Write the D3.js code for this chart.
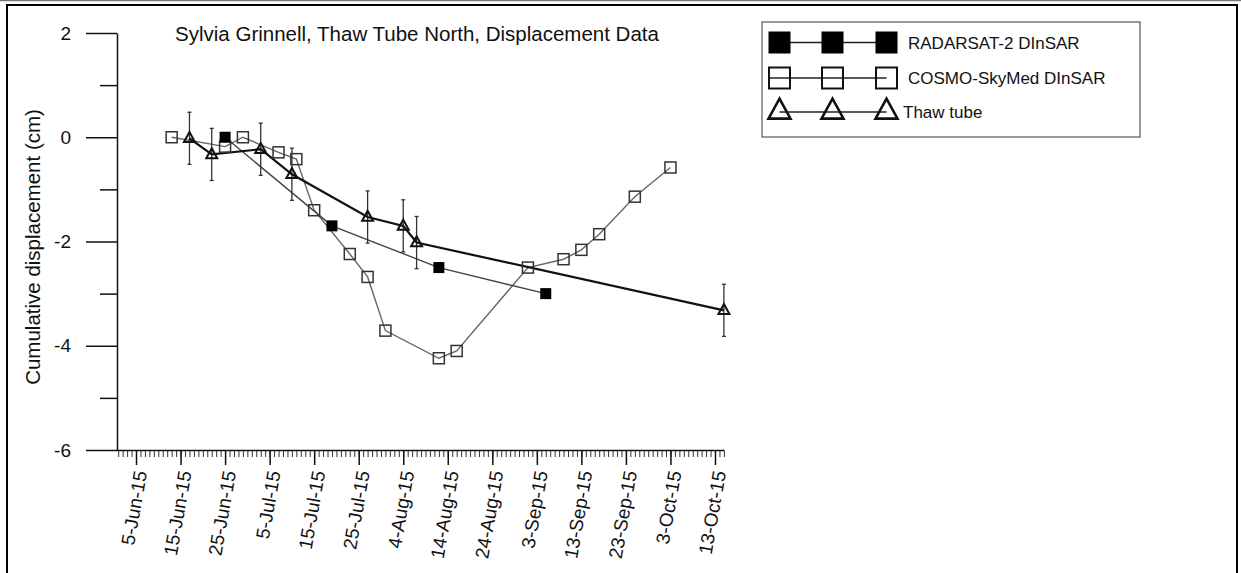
<!DOCTYPE html>
<html>
<head>
<meta charset="utf-8">
<script src="https://cdn.jsdelivr.net/npm/d3@7"></script>
<style>
  body { margin: 0; background: #fff; }
  text { font-family: "Liberation Sans", Arial, sans-serif; fill: #111; }
</style>
</head>
<body>
<div id="chart"></div>
<script>
var svgWidth = 1241;
var svgHeight = 573;

var parseDate = d3.utcParse("%Y-%m-%d");
var formatDate = d3.utcFormat("%-d-%b-%y");

// RADARSAT-2 DInSAR (filled squares)
var radarsatDates = ["2015-06-25", "2015-07-19", "2015-08-12", "2015-09-05"];
var radarsatValues = [0, -1.70, -2.50, -3.00];

// COSMO-SkyMed DInSAR (open squares)
var cosmoDates = ["2015-06-13", "2015-06-25", "2015-06-29", "2015-07-07", "2015-07-11",
  "2015-07-15", "2015-07-23", "2015-07-27", "2015-07-31", "2015-08-12", "2015-08-16",
  "2015-09-01", "2015-09-09", "2015-09-13", "2015-09-17", "2015-09-25", "2015-10-03"];
var cosmoValues = [0, -0.18, 0, -0.29, -0.42, -1.40, -2.24, -2.68, -3.71, -4.24, -4.10,
  -2.50, -2.34, -2.16, -1.86, -1.14, -0.58];

// Thaw tube (triangles with error bars)
var thawDates = ["2015-06-17", "2015-06-22", "2015-07-03", "2015-07-10", "2015-07-27",
  "2015-08-04", "2015-08-07", "2015-10-15"];
var thawValues = [-0.02, -0.33, -0.23, -0.71, -1.53, -1.70, -2.02, -3.32];
var thawError = [0.5, 0.5, 0.5, 0.5, 0.5, 0.5, 0.5, 0.5];

var yTicks = [-6, -4, -2, 0, 2];
var yMinorTicks = [-5, -3, -1, 1];
var xTickDates = ["2015-06-05", "2015-06-15", "2015-06-25", "2015-07-05", "2015-07-15",
  "2015-07-25", "2015-08-04", "2015-08-14", "2015-08-24", "2015-09-03", "2015-09-13",
  "2015-09-23", "2015-10-03", "2015-10-13"];
var xStart = "2015-06-01";
var xEnd = "2015-10-15";

var legendLabels = ["RADARSAT-2 DInSAR", "COSMO-SkyMed DInSAR", "Thaw tube"];

function toPoints(dates, values) {
  return dates.map(function(d, i) { return { date: parseDate(d), value: values[i] }; });
}
var radarsat = toPoints(radarsatDates, radarsatValues);
var cosmo = toPoints(cosmoDates, cosmoValues);
var thaw = toPoints(thawDates, thawValues);
thaw.forEach(function(d, i) { d.err = thawError[i]; });

var svg = d3.select("#chart")
  .append("svg")
  .attr("width", svgWidth)
  .attr("height", svgHeight);

// page frame
svg.append("line")
  .attr("x1", 0).attr("x2", svgWidth).attr("y1", 0.5).attr("y2", 0.5)
  .attr("stroke", "#777").attr("stroke-width", 1.5);
svg.append("rect")
  .attr("x", 7).attr("y", 5).attr("width", 1230).attr("height", 600)
  .attr("fill", "none").attr("stroke", "#000").attr("stroke-width", 2);

var xScale = d3.scaleUtc()
  .domain([parseDate(xStart), parseDate(xEnd)])
  .range([118.2, 723.9]);

var yScale = d3.scaleLinear()
  .domain([-6, 2])
  .range([450, 33]);

// y axis
var yMinor = svg.append("g")
  .attr("transform", "translate(117,0)")
  .call(d3.axisLeft(yScale).tickValues(yMinorTicks).tickSize(17).tickSizeOuter(0).tickFormat(""));
yMinor.select(".domain").remove();

var yAxis = svg.append("g")
  .attr("transform", "translate(117,0)")
  .attr("font-size", 19)
  .call(d3.axisLeft(yScale).tickValues(yTicks).tickSize(31).tickSizeOuter(0).tickPadding(15)
    .tickFormat(d => String(d)));
yAxis.attr("font-size", 19).attr("font-family", "Liberation Sans, Arial, sans-serif");
svg.selectAll(".tick line, .domain").attr("stroke", "#111").attr("stroke-width", 1.5);

// x axis, daily minor ticks
var xMinor = svg.append("g")
  .attr("transform", "translate(0,450)")
  .call(d3.axisBottom(xScale)
    .tickValues(d3.utcDay.range(parseDate(xStart), d3.utcDay.offset(parseDate(xEnd), 1)))
    .tickSize(7).tickSizeOuter(0).tickFormat(""));
xMinor.selectAll(".tick line").attr("stroke", "#333").attr("stroke-width", 1);
xMinor.select(".domain").remove();

var xAxis = svg.append("g")
  .attr("transform", "translate(0,450)")
  .call(d3.axisBottom(xScale)
    .tickValues(xTickDates.map(parseDate))
    .tickSize(15).tickSizeOuter(0).tickFormat(formatDate));
xAxis.attr("font-size", 19).attr("font-family", "Liberation Sans, Arial, sans-serif");
xAxis.select(".domain").attr("d", "M117,0.5H724").attr("stroke", "#111").attr("stroke-width", 1.5);
xAxis.selectAll(".tick line").attr("stroke", "#111").attr("stroke-width", 1.5);
xAxis.selectAll("text")
  .attr("text-anchor", "end")
  .attr("y", 0)
  .attr("dy", "0.35em")
  .attr("transform", "translate(4,21) rotate(-80)");

// axis title and chart title
svg.append("text")
  .attr("transform", "translate(40,247) rotate(-90)")
  .attr("text-anchor", "middle")
  .attr("font-size", "20.5px")
  .text("Cumulative displacement (cm)");

svg.append("text")
  .attr("x", 417)
  .attr("y", 41)
  .attr("text-anchor", "middle")
  .attr("font-size", "20.5px")
  .text("Sylvia Grinnell, Thaw Tube North, Displacement Data");

var line = d3.line()
  .x(function(d) { return xScale(d.date); })
  .y(function(d) { return yScale(d.value); });

var triPath = function(s) {
  return "M0," + (-s * 0.62) + "L" + (s * 0.55) + "," + (s * 0.38) + "L" + (-s * 0.55) + "," + (s * 0.38) + "Z";
};

// COSMO line
svg.append("path")
  .datum(cosmo)
  .attr("d", line)
  .attr("fill", "none")
  .attr("stroke", "#666")
  .attr("stroke-width", 1.4);

// RADARSAT line
svg.append("path")
  .datum(radarsat)
  .attr("d", line)
  .attr("fill", "none")
  .attr("stroke", "#444")
  .attr("stroke-width", 1.4);

// thaw tube error bars
var errGroup = svg.append("g");
errGroup.selectAll("line.err")
  .data(thaw)
  .enter()
  .append("line")
  .attr("x1", d => xScale(d.date))
  .attr("x2", d => xScale(d.date))
  .attr("y1", d => yScale(d.value + d.err))
  .attr("y2", d => yScale(d.value - d.err))
  .attr("stroke", "#333")
  .attr("stroke-width", 1.3);
[1, -1].forEach(function(sign) {
  errGroup.selectAll(null)
    .data(thaw)
    .enter()
    .append("line")
    .attr("x1", d => xScale(d.date) - 2)
    .attr("x2", d => xScale(d.date) + 2)
    .attr("y1", d => yScale(d.value + sign * d.err))
    .attr("y2", d => yScale(d.value + sign * d.err))
    .attr("stroke", "#333")
    .attr("stroke-width", 1.3);
});

// thaw tube line
svg.append("path")
  .datum(thaw)
  .attr("d", line)
  .attr("fill", "none")
  .attr("stroke", "#111")
  .attr("stroke-width", 2.2);

svg.append("g").selectAll("rect")
  .data(cosmo)
  .enter()
  .append("rect")
  .attr("x", d => xScale(d.date) - 5.5)
  .attr("y", d => yScale(d.value) - 5.5)
  .attr("width", 11)
  .attr("height", 11)
  .attr("fill", "none")
  .attr("stroke", "#333")
  .attr("stroke-width", 1.5);

svg.append("g").selectAll("rect")
  .data(radarsat)
  .enter()
  .append("rect")
  .attr("x", d => xScale(d.date) - 5.5)
  .attr("y", d => yScale(d.value) - 5.5)
  .attr("width", 11)
  .attr("height", 11)
  .attr("fill", "#000");

svg.append("g").selectAll("path")
  .data(thaw)
  .enter()
  .append("path")
  .attr("transform", d => `translate(${xScale(d.date)}, ${yScale(d.value)})`)
  .attr("d", triPath(10))
  .attr("fill", "none")
  .attr("stroke", "#111")
  .attr("stroke-width", 2);

// legend
var legend = svg.append("g");
legend.append("rect")
  .attr("x", 762).attr("y", 22).attr("width", 378).attr("height", 115)
  .attr("fill", "#fff").attr("stroke", "#555").attr("stroke-width", 1.2);

var legendX = [779.5, 832.5, 886.5];
var legendY = [42.5, 78, 112];

legendY.forEach(function(ly, i) {
  legend.append("line")
    .attr("x1", legendX[0] - (i === 1 ? 10 : 0)).attr("x2", legendX[2])
    .attr("y1", ly).attr("y2", ly)
    .attr("stroke", "#222").attr("stroke-width", 1.4);
  legendX.forEach(function(lx) {
    if (i === 0) {
      legend.append("rect")
        .attr("x", lx - 11).attr("y", ly - 11).attr("width", 22).attr("height", 22)
        .attr("fill", "#000");
    } else if (i === 1) {
      legend.append("rect")
        .attr("x", lx - 10.5).attr("y", ly - 10.5).attr("width", 21).attr("height", 21)
        .attr("fill", "none").attr("stroke", "#111").attr("stroke-width", 2);
    } else {
      legend.append("path")
        .attr("transform", `translate(${lx}, ${ly - 1})`)
        .attr("d", triPath(20))
        .attr("fill", "none").attr("stroke", "#111").attr("stroke-width", 2.6);
    }
  });
  legend.append("text")
    .attr("x", i === 2 ? 903 : 908)
    .attr("y", ly + 6)
    .attr("font-size", "17px")
    .text(legendLabels[i]);
});
</script>
</body>
</html>
